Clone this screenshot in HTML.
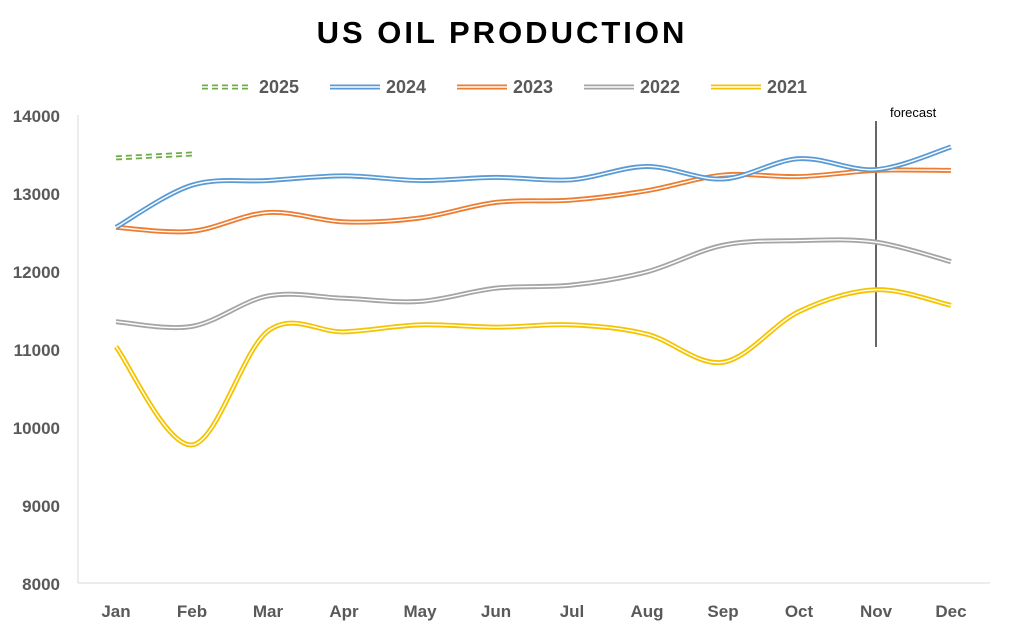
<!DOCTYPE html>
<html><head><meta charset="utf-8"><style>
body{margin:0;background:#fff;width:1011px;height:627px;overflow:hidden}
text{font-family:"Liberation Sans",sans-serif}
</style></head><body>
<svg id="s" width="1011" height="627" xmlns="http://www.w3.org/2000/svg">
<text x="502" y="43" text-anchor="middle" font-size="31" font-weight="bold" letter-spacing="3" fill="#000">US OIL PRODUCTION</text>
<g font-size="18" font-weight="bold" fill="#595959">
<text x="259" y="93">2025</text><text x="386" y="93">2024</text><text x="513" y="93">2023</text><text x="640" y="93">2022</text><text x="767" y="93">2021</text>
</g>
<g font-size="17" font-weight="bold" fill="#595959" text-anchor="end">
<text x="60" y="122">14000</text><text x="60" y="200">13000</text><text x="60" y="278">12000</text><text x="60" y="356">11000</text><text x="60" y="434">10000</text><text x="60" y="512">9000</text><text x="60" y="590">8000</text>
</g>
<line x1="78" y1="115" x2="78" y2="583" stroke="#d9d9d9"/>
<line x1="78" y1="583" x2="990" y2="583" stroke="#d9d9d9"/>
<g id="xl" font-size="17" font-weight="bold" fill="#595959" text-anchor="middle"></g>
<line x1="876" y1="121" x2="876" y2="347" stroke="#000" stroke-width="1.2"/>
<text x="890" y="117" font-size="13" fill="#000">forecast</text>
<g id="p"></g>
</svg>
<script>
var X=[116,192,268,344,420,496,572,647,723,799,876,951];
var M=["Jan","Feb","Mar","Apr","May","Jun","Jul","Aug","Sep","Oct","Nov","Dec"];
var NS="http://www.w3.org/2000/svg";
var xl=document.getElementById("xl");
M.forEach(function(m,i){var t=document.createElementNS(NS,"text");t.setAttribute("x",X[i]);t.setAttribute("y",617);t.textContent=m;xl.appendChild(t);});
function Y(v){return 583-(v-8000)*0.078;}
function path(d){var p=d.map(function(v,i){return [X[i],Y(v)]});var s="M"+p[0][0]+","+p[0][1];
for(var i=0;i<p.length-1;i++){var a=p[i-1]||p[i],b=p[i],c=p[i+1],e=p[i+2]||c;
s+=" C"+(b[0]+(c[0]-a[0])/6)+","+(b[1]+(c[1]-a[1])/6)+" "+(c[0]-(e[0]-b[0])/6)+","+(c[1]-(e[1]-b[1])/6)+" "+c[0]+","+c[1];}return s;}
var g=document.getElementById("p");
function add(d,col,dash){[[5,col],[1.4,"#fff"]].forEach(function(w){var e=document.createElementNS(NS,"path");e.setAttribute("d",d);e.setAttribute("fill","none");e.setAttribute("stroke",w[1]);e.setAttribute("stroke-width",w[0]);if(dash)e.setAttribute("stroke-dasharray",dash);g.appendChild(e);});}
var S=[
["#f5c400",[11030,9770,11230,11220,11310,11280,11310,11190,10830,11480,11760,11560]],
["#a5a5a5",[11350,11290,11680,11650,11610,11780,11820,11990,12330,12390,12370,12120]],
["#ed7d31",[12560,12510,12750,12630,12680,12880,12910,13030,13230,13210,13290,13290]],
["#5b9bd5",[12560,13100,13160,13220,13160,13200,13170,13340,13180,13440,13300,13590]]];
S.forEach(function(s){add(path(s[1]),s[0]);});
add(path([13450,13500]),"#70ad47","6,4");
// legend
[["#70ad47",202,"6,4"],["#5b9bd5",330],["#ed7d31",457],["#a5a5a5",584],["#f5c400",711]].forEach(function(l){add("M"+l[1]+",87 L"+(l[1]+50)+",87",l[0],l[2]);});
</script>
</body></html>
